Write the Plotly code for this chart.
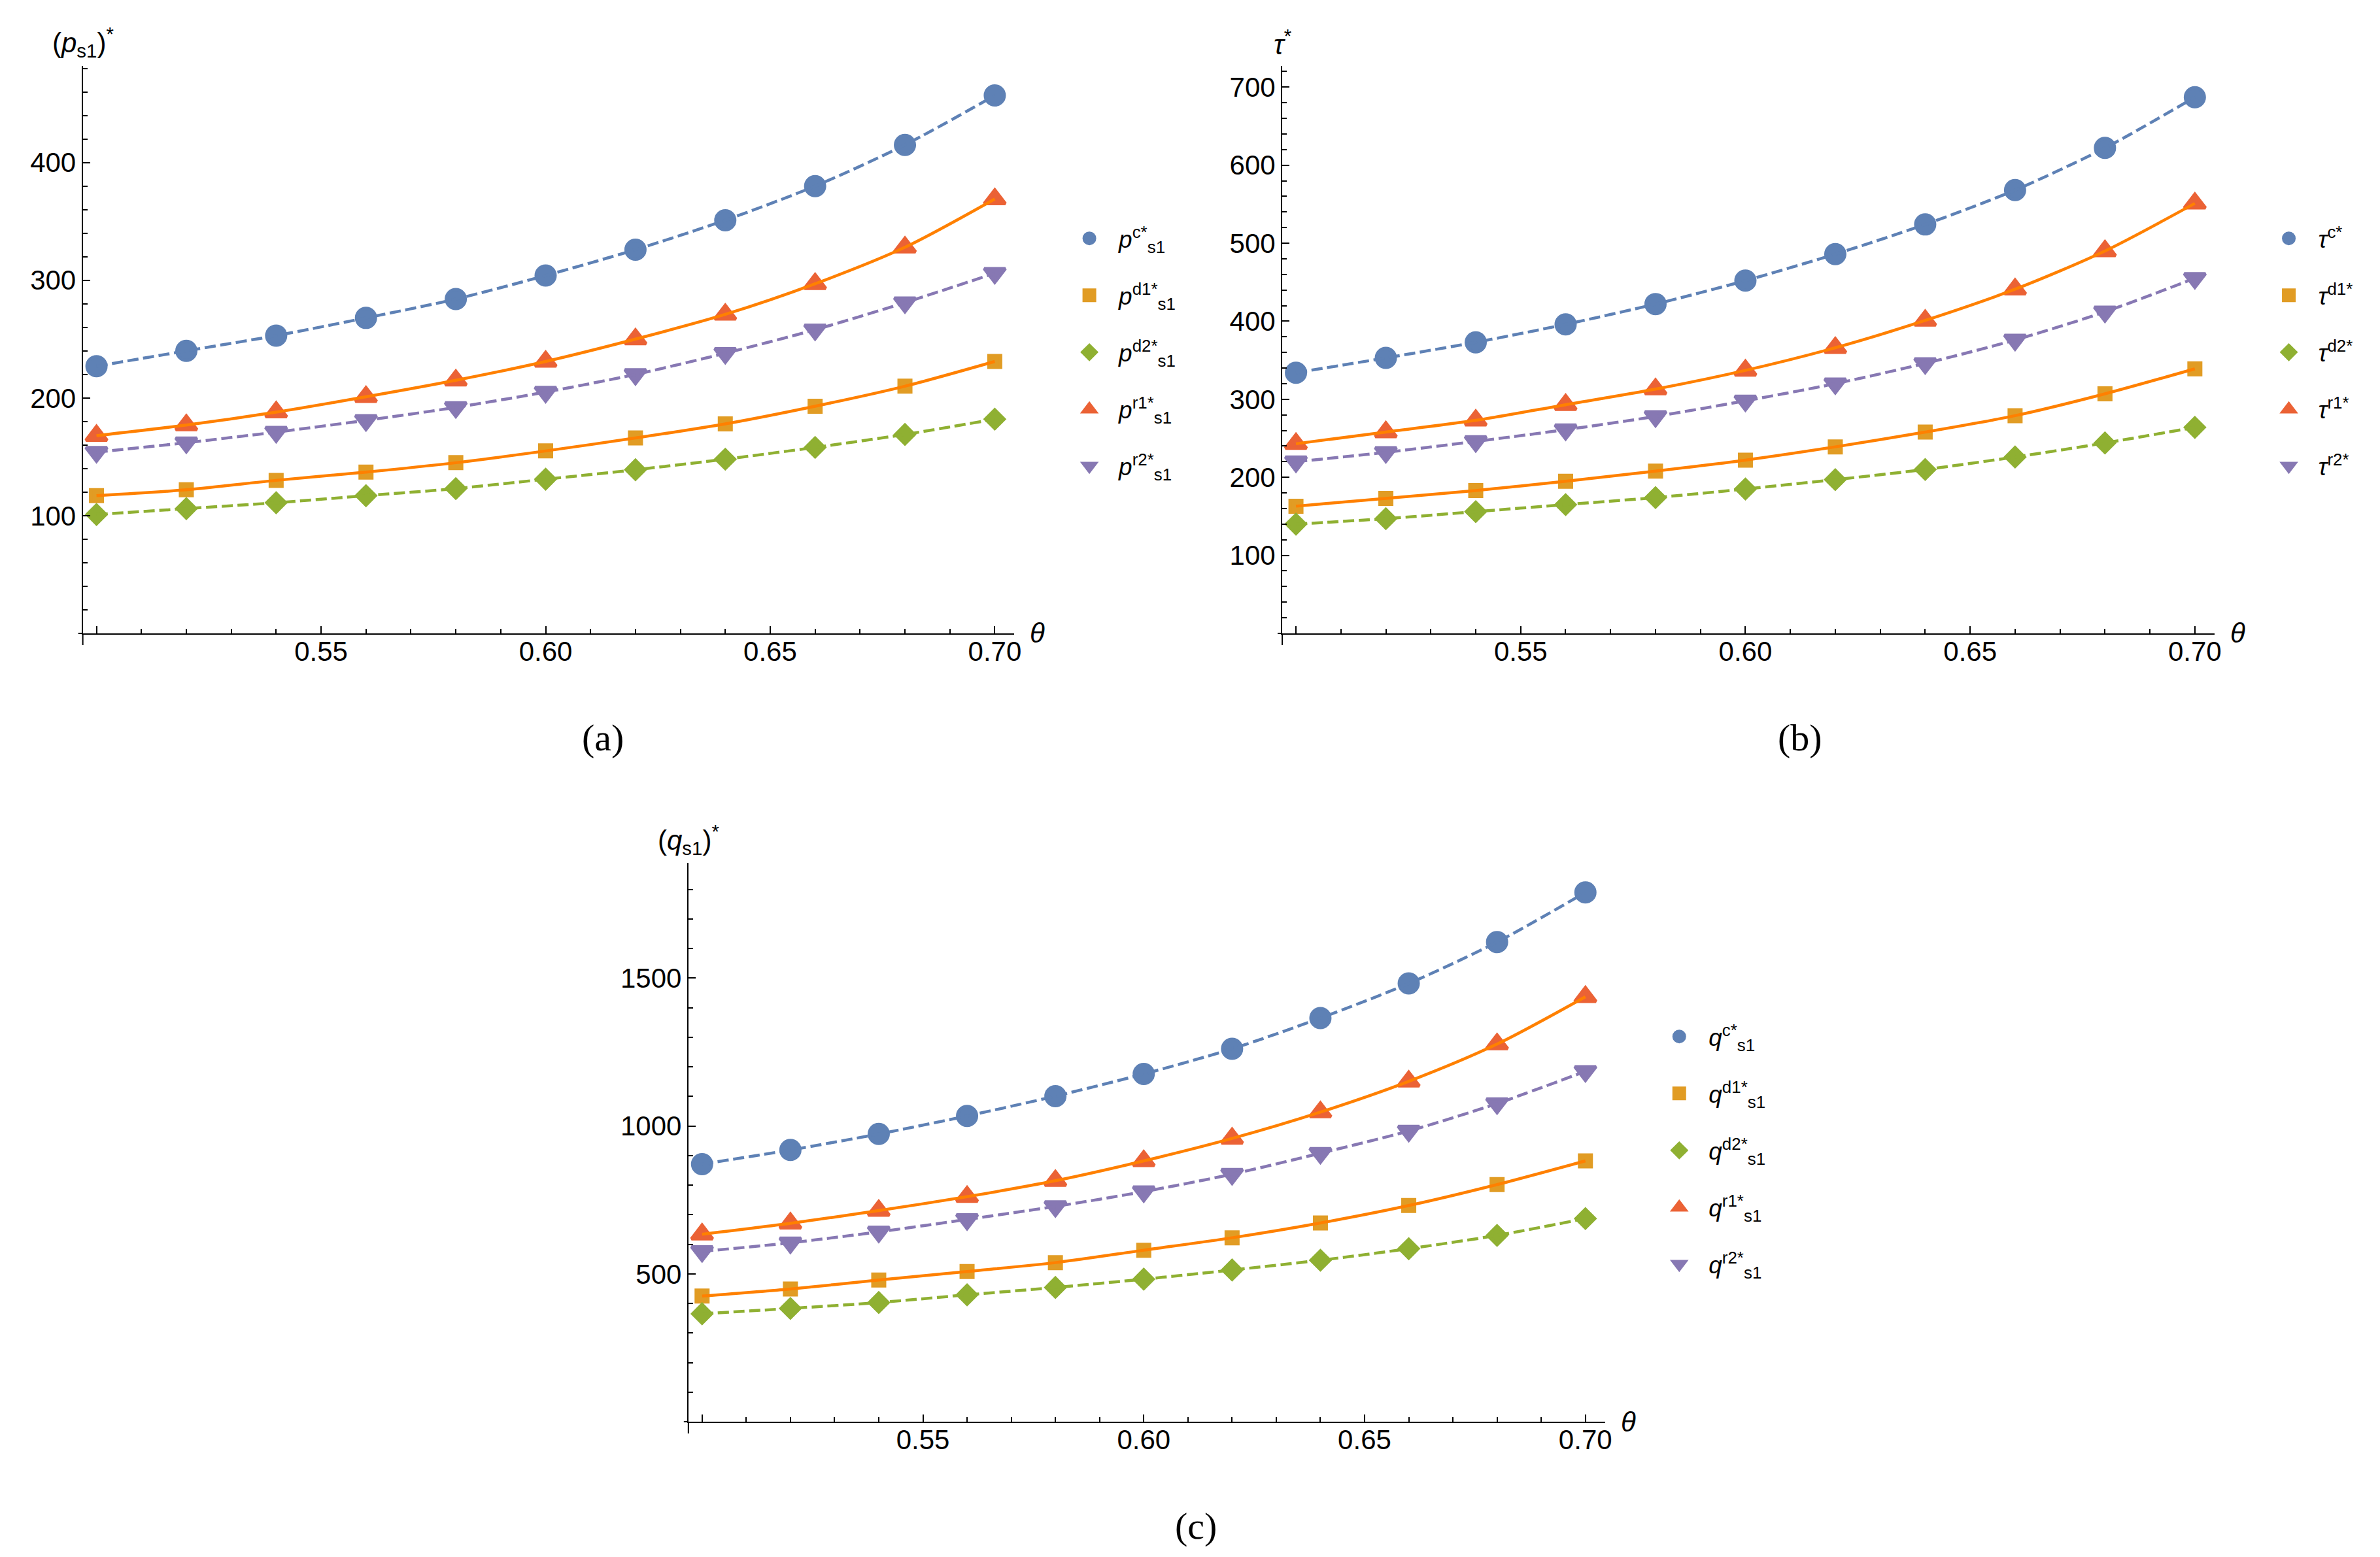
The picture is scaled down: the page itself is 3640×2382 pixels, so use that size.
import plotly.graph_objects as go

theta = [0.50, 0.52, 0.54, 0.56, 0.58, 0.60, 0.62, 0.64, 0.66, 0.68, 0.70]

# (a) retail price of supplier 1
p_c = [227, 240, 253, 268, 284, 304, 326, 351, 380, 415, 457]
p_d1 = [117, 122, 130, 137, 145, 155, 166, 178, 193, 210, 231]
p_d2 = [101, 106, 111, 117, 123, 131, 139, 148, 158, 169, 182]
p_r1 = [168, 177, 188, 201, 215, 231, 250, 271, 297, 328, 369]
p_r2 = [154, 162, 171, 181, 192, 205, 220, 238, 258, 281, 306]

# (b) tau
t_c = [334, 353, 373, 396, 422, 452, 486, 524, 568, 622, 687]
t_d1 = [163, 173, 183, 195, 208, 222, 239, 258, 279, 307, 339]
t_d2 = [140, 147, 156, 165, 174, 185, 197, 210, 226, 244, 264]
t_r1 = [243, 258, 273, 293, 313, 337, 366, 401, 441, 490, 551]
t_r2 = [220, 232, 246, 261, 278, 298, 320, 346, 376, 412, 455]

# (c) quantity of supplier 1
q_c = [871, 919, 973, 1034, 1101, 1176, 1261, 1365, 1482, 1622, 1790]
q_d1 = [425, 449, 479, 508, 538, 580, 622, 672, 731, 802, 882]
q_d2 = [365, 383, 403, 429, 454, 482, 513, 546, 585, 630, 687]
q_r1 = [634, 671, 714, 761, 815, 882, 958, 1047, 1151, 1277, 1437]
q_r2 = [576, 605, 642, 684, 728, 778, 837, 908, 983, 1076, 1185]

keys = ["c", "d1", "d2", "r1", "r2"]
p_names = ["<i>p</i><sup>%s*</sup><sub>s1</sub>" % k for k in keys]
t_names = ["<i>τ</i><sup>%s*</sup>" % k for k in keys]
q_names = ["<i>q</i><sup>%s*</sup><sub>s1</sub>" % k for k in keys]

x_major = [0.50, 0.55, 0.60, 0.65, 0.70]
x_major_text = ["", "0.55", "0.60", "0.65", "0.70"]

FONT = "Liberation Sans, Arial, sans-serif"
DASH = "17px,7px"
# a same-coloured outline makes the (size-capped) legend symbols a bit bigger
marker_style = {
    "c": dict(symbol="circle", color="#5E81B5", size=29),
    "d1": dict(symbol="square", color="#E19C24", size=18),
    "d2": dict(symbol="diamond", color="#8FB032", size=22),
    "r1": dict(symbol="triangle-up", color="#EB6235", size=28),
    "r2": dict(symbol="triangle-down", color="#8778B3", size=28),
}
line_style = {
    "c": dict(color="#5E81B5", dash=DASH),
    "d1": dict(color="#FF8000", dash="solid"),
    "d2": dict(color="#8FB032", dash=DASH),
    "r1": dict(color="#FF8000", dash="solid"),
    "r2": dict(color="#8778B3", dash=DASH),
}

panels = [
    dict(series=[p_c, p_d1, p_d2, p_r1, p_r2], names=p_names,
         ytitle="(<i>p</i><sub>s1</sub>)<sup>*</sup>", label="(a)",
         xdom=[0.03269, 0.42527], xrange=[0.49695, 0.70435],
         ydom=[0.59656, 0.96096], yrange=[0, 482],
         ymajor=[100, 200, 300, 400], yminor=20,
         legend=dict(x=0.4445, y=0.8631), lab_xy=(0.2519, 0.5298)),
    dict(series=[t_c, t_d1, t_d2, t_r1, t_r2], names=t_names,
         ytitle="<i>τ</i><sup>*</sup>", label="(b)",
         xdom=[0.53819, 0.93104], xrange=[0.49695, 0.70435],
         ydom=[0.59656, 0.96096], yrange=[0, 727],
         ymajor=[100, 200, 300, 400, 500, 600, 700], yminor=20,
         legend=dict(x=0.9500, y=0.8631), lab_xy=(0.7563, 0.5298)),
    dict(series=[q_c, q_d1, q_d2, q_r1, q_r2], names=q_names,
         ytitle="(<i>q</i><sub>s1</sub>)<sup>*</sup>", label="(c)",
         xdom=[0.28791, 0.67418], xrange=[0.4969, 0.70442],
         ydom=[0.09026, 0.44920], yrange=[0, 1890],
         ymajor=[500, 1000, 1500], yminor=100,
         legend=dict(x=0.6931, y=0.3505), lab_xy=(0.5019, 0.0235)),
]

fig = go.Figure()
layout = {}
annotations = []
shapes = []

for i, pan in enumerate(panels):
    sfx = "" if i == 0 else str(i + 1)
    xa, ya = "x" + sfx, "y" + sfx
    leg = "legend" + sfx

    # markers first (they carry the legend), lines drawn on top
    for k, vals, name in zip(keys, pan["series"], pan["names"]):
        ms = marker_style[k]
        fig.add_trace(go.Scatter(
            x=theta, y=vals, mode="markers", name=name,
            marker=dict(symbol=ms["symbol"], color=ms["color"], size=ms["size"],
                        line=dict(color=ms["color"], width=5)),
            xaxis=xa, yaxis=ya,
            legend=leg, legendgroup=f"{i}{k}", cliponaxis=False,
        ))
    for k, vals in zip(keys, pan["series"]):
        fig.add_trace(go.Scatter(
            x=theta, y=vals, mode="lines", showlegend=False,
            line=dict(width=4.5, shape="spline", smoothing=0.8, **line_style[k]),
            xaxis=xa, yaxis=ya, cliponaxis=False,
        ))

    layout["xaxis" + sfx] = dict(
        domain=pan["xdom"], range=pan["xrange"], anchor=ya,
        showline=True, linecolor="black", linewidth=2,
        showgrid=False, zeroline=False,
        ticks="inside", ticklen=11, tickwidth=1.5, tickcolor="black",
        tickvals=x_major, ticktext=x_major_text, ticklabelstandoff=-10,
        minor=dict(ticks="inside", ticklen=7, tickwidth=1.5, tickcolor="black",
                   tick0=0.5, dtick=0.01, showgrid=False),
        tickfont=dict(family=FONT, size=42, color="black"),
    )
    layout["yaxis" + sfx] = dict(
        domain=pan["ydom"], range=pan["yrange"], anchor=xa,
        showline=True, linecolor="black", linewidth=2,
        showgrid=False, zeroline=False,
        ticks="inside", ticklen=11, tickwidth=1.5, tickcolor="black",
        tickvals=pan["ymajor"],
        minor=dict(ticks="inside", ticklen=7, tickwidth=1.5, tickcolor="black",
                   tick0=0, dtick=pan["yminor"], showgrid=False),
        tickfont=dict(family=FONT, size=42, color="black"),
    )
    layout[leg] = dict(
        x=pan["legend"]["x"], y=pan["legend"]["y"], xanchor="left", yanchor="top",
        font=dict(family=FONT, size=37, color="black"),
        bgcolor="rgba(0,0,0,0)", itemsizing="trace", itemwidth=80,
        tracegroupgap=36,
    )

    annotations.append(dict(
        text=pan["ytitle"], xref=xa + " domain", yref=ya + " domain",
        x=0, y=1, xanchor="center", yanchor="middle", yshift=36,
        showarrow=False, font=dict(family=FONT, size=42, color="black"),
    ))
    annotations.append(dict(
        text="<i>θ</i>", xref=xa + " domain", yref=ya + " domain",
        x=1, y=0, xanchor="left", yanchor="middle", xshift=22,
        showarrow=False, font=dict(family=FONT, size=42, color="black"),
    ))
    annotations.append(dict(
        text=pan["label"], xref="paper", yref="paper",
        x=pan["lab_xy"][0], y=pan["lab_xy"][1], xanchor="center", yanchor="middle",
        showarrow=False, font=dict(family="Liberation Serif, serif", size=58, color="black"),
    ))

    # Mathematica-style axis overshoot at the origin
    shapes.append(dict(
        type="line", xref=xa + " domain", yref=ya + " domain",
        xsizemode="pixel", xanchor=0, x0=-7, x1=0, y0=0, y1=0,
        line=dict(color="black", width=2),
    ))
    shapes.append(dict(
        type="line", xref=xa + " domain", yref=ya + " domain",
        ysizemode="pixel", yanchor=0, y0=-18, y1=0, x0=0, x1=0,
        line=dict(color="black", width=2),
    ))

fig.update_layout(
    width=3640, height=2382, autosize=False,
    margin=dict(l=0, r=0, t=0, b=0),
    paper_bgcolor="white", plot_bgcolor="white",
    annotations=annotations, shapes=shapes,
    font=dict(family=FONT, color="black"),
    **layout,
)

fig.write_html("out.html")
